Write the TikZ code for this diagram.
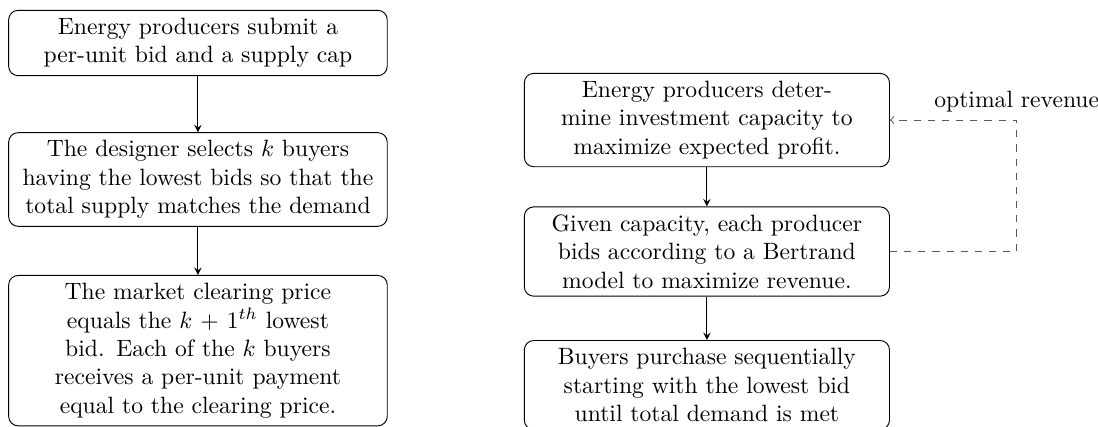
\documentclass[tikz,border=0pt]{standalone}
\usepackage{amsmath,amssymb}
\usepackage{tikz}

\begin{document}
\begin{tikzpicture}[>=stealth,
        block/.style={draw, rounded corners=4pt, align=center},
        wide/.style={block, text width=5.4cm},
        narrow/.style={block, text width=5.2cm},
        arr/.style={->},
        feedback/.style={->, >=to, dashed, draw=black!65},
    ]
    \useasboundingbox (0,0) rectangle (16.34,-6.34);

    % Left column: uniform price auction
    \node[wide] (submit) at (2.946, -0.64)
        {Energy producers submit a\\ per-unit bid and a supply cap};
    \node[wide] (select) at (2.946, -2.671)
        {The designer selects $k$ buyers\\ having the lowest bids so that the\\ total supply matches the demand};
    \node[wide, anchor=north] (clear) at (2.946, -4.092)
        {The market clearing price\\ equals the $k+1^{th}$ lowest\\ bid. Each of the $k$ buyers\\ receives a per-unit payment\\ equal to the clearing price.};

    % Right column: Bertrand competition
    \node[narrow] (invest) at (10.52, -1.786)
        {Energy producers deter-\\ mine investment capacity to\\ maximize expected profit.};
    \node[narrow] (bid) at (10.52, -3.743)
        {Given capacity, each producer\\ bids according to a Bertrand\\ model to maximize revenue.};
    \node[narrow, anchor=north] (buy) at (10.52, -5.06)
        {Buyers purchase sequentially\\ starting with the lowest bid\\ until total demand is met};

    % Arrows
    \draw[arr] (submit) -- (select);
    \draw[arr] (select) -- (clear);
    \draw[arr] (invest) -- (bid);
    \draw[arr] (bid) -- (buy);

    % Feedback loop
    \coordinate (loop) at (15.13, -3.743);
    \draw[feedback] (bid.east) -- (loop) |- node[pos=0.5, above, text=black] {optimal revenue} (invest.east);

\end{tikzpicture}
\end{document}
